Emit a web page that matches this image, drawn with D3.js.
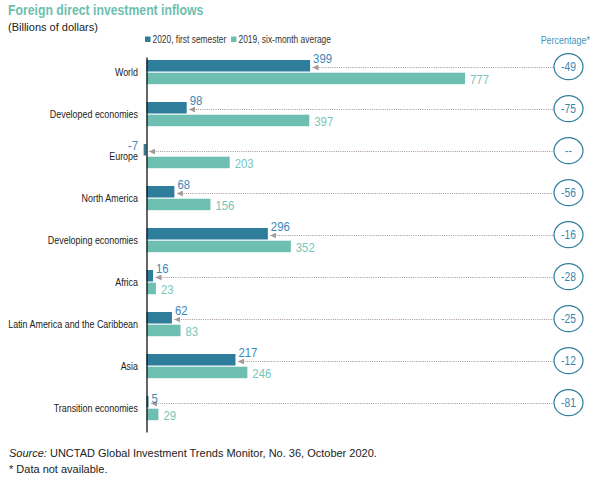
<!DOCTYPE html>
<html>
<head>
<meta charset="utf-8">
<script src="https://cdn.jsdelivr.net/npm/d3@7"></script>
<style>
  body { margin: 0; background: #fff; }
  text { font-family: "Liberation Sans", Arial, sans-serif; }
</style>
</head>
<body>
<svg width="605" height="482"></svg>
<script>
// ---- DATA ----
const categories = [
  "World", "Developed economies", "Europe", "North America",
  "Developing economies", "Africa", "Latin America and the Caribbean",
  "Asia", "Transition economies"
];
const values2020 = [399, 98, -7, 68, 296, 16, 62, 217, 5];
const values2019 = [777, 397, 203, 156, 352, 23, 83, 246, 29];
const pctChange = ["-49", "-75", "--", "-56", "-16", "-28", "-25", "-12", "-81"];
const seriesNames = ["2020, first semester", "2019, six-month average"];

const rows = categories.map((c, i) => ({
  name: c, v20: values2020[i], v19: values2019[i], pct: pctChange[i]
}));

const colDark = "#2e7d9b";
const colLight = "#6ebfb1";
const txtDark = "#3b87b6";
const txtLight = "#76c6ba";

const svg = d3.select("svg");

// no narrow font installed, so squeeze the glyphs ourselves
function narrow(sel, k = 0.82) {
  sel.each(function () {
    const w = this.getComputedTextLength();
    this.setAttribute("textLength", w * k);
    this.setAttribute("lengthAdjust", "spacingAndGlyphs");
  });
}

// ---- SCALES ----
const x = d3.scaleLinear().domain([0, 800]).range([146.5, 474.5]);
const y = d3.scaleBand().domain(categories).range([60, 60 + categories.length * 42]);

const barH = 11.5;
const circleX = 568.5;

// ---- TITLES ----
svg.append("text")
  .attr("x", 8).attr("y", 15)
  .attr("fill", "#6dbfae")
  .attr("font-weight", "bold")
  .attr("font-size", 15.5)
  .text("Foreign direct investment inflows")
  .call(narrow, 0.79);

svg.append("text")
  .attr("x", 8).attr("y", 31)
  .attr("fill", "#222")
  .attr("font-size", 11)
  .text("(Billions of dollars)");

// ---- LEGEND ----
const legend = svg.append("g");
[[145, colDark, seriesNames[0]], [231, colLight, seriesNames[1]]].forEach(([lx, c, t]) => {
  legend.append("rect").attr("x", lx).attr("y", 36.5).attr("width", 5.5).attr("height", 5.5).attr("fill", c);
  legend.append("text").attr("x", lx + 7.5).attr("y", 42.5)
    .attr("font-size", 10.5).attr("fill", "#333").text(t)
    .call(narrow, 0.8);
});

svg.append("text")
  .attr("x", 590).attr("y", 43.5)
  .attr("text-anchor", "end")
  .attr("font-size", 11.5)
  .attr("fill", "#4a93c0")
  .text("Percentage*")
  .call(narrow, 0.78);

// ---- ARROW MARKER ----
svg.append("defs").append("marker")
  .attr("id", "arr")
  .attr("viewBox", "0 0 6 6")
  .attr("refX", 0).attr("refY", 3)
  .attr("markerWidth", 6).attr("markerHeight", 6)
  .attr("markerUnits", "userSpaceOnUse")
  .attr("orient", "auto")
  .append("path")
  .attr("d", "M6,0 L0,3 L6,6 Z")
  .attr("fill", "#a59a9a");

const g = svg.append("g");

// ---- DOTTED CONNECTORS ----
g.selectAll(".conn").data(rows).join("line")
  .attr("x1", d => x(Math.max(d.v20, 0)) + 2.5)
  .attr("x2", circleX - 15)
  .attr("y1", d => y(d.name) + 7.5)
  .attr("y2", d => y(d.name) + 7.5)
  .attr("stroke", "#a89696")
  .attr("stroke-width", 1)
  .attr("stroke-dasharray", "1,1.2")
  .attr("marker-start", "url(#arr)");

// ---- BARS ----
g.selectAll(".b20").data(rows).join("rect")
  .attr("x", d => x(Math.min(d.v20, 0)))
  .attr("width", d => Math.abs(x(d.v20) - x(0)))
  .attr("y", d => y(d.name))
  .attr("height", barH)
  .attr("fill", colDark);

g.selectAll(".b19").data(rows).join("rect")
  .attr("x", x(0))
  .attr("width", d => x(d.v19) - x(0))
  .attr("y", d => y(d.name) + barH + 1.2)
  .attr("height", barH)
  .attr("fill", colLight);

// ---- VALUE LABELS ----
g.selectAll(".l20").data(rows).join("text")
  .attr("x", d => d.v20 < 0 ? x(0) - 8.5 : x(d.v20) + 3)
  .attr("y", d => y(d.name) + (d.v20 < 0 ? 6.3 : Math.abs(x(d.v20) - x(0)) < 5 ? 7 : 2.5))
  .attr("text-anchor", d => d.v20 < 0 ? "end" : "start")
  .attr("font-size", 13.5)
  .attr("fill", txtDark)
  .text(d => d.v20)
  .call(narrow, 0.84);

g.selectAll(".l19").data(rows).join("text")
  .attr("x", d => x(d.v19) + 5)
  .attr("y", d => y(d.name) + 2 * barH + 1.2)
  .attr("font-size", 13.5)
  .attr("fill", txtLight)
  .text(d => d.v19)
  .call(narrow, 0.84);

// ---- CATEGORY LABELS ----
g.selectAll(".cat").data(rows).join("text")
  .attr("x", 138)
  .attr("y", d => y(d.name) + 16.3)
  .attr("text-anchor", "end")
  .attr("font-size", 11)
  .attr("fill", "#222")
  .text(d => d.name)
  .call(narrow, 0.81);

// ---- AXIS LINE ----
const yAxis = d3.axisLeft(d3.scaleLinear().domain([0, 1]).range([y.range()[0] - 3, y.range()[1] - 6]))
  .ticks(0).tickSizeOuter(0);
svg.append("g")
  .attr("transform", `translate(${x(0)},0)`)
  .call(yAxis)
  .call(a => a.select(".domain").attr("stroke", "#111").attr("stroke-width", 1.3));

// ---- PERCENT CIRCLES ----
const circ = g.selectAll(".pc").data(rows).join("g")
  .attr("transform", d => `translate(${circleX},${y(d.name) + 6.7})`);
circ.append("ellipse")
  .attr("rx", 14.5).attr("ry", 13)
  .attr("fill", "#fff")
  .attr("stroke", "#2f7d9c")
  .attr("stroke-width", 1.2);
circ.append("text")
  .attr("y", 4.4)
  .attr("text-anchor", "middle")
  .attr("font-size", 12.5)
  .attr("fill", "#3a85ae")
  .text(d => d.pct)
  .call(narrow, 0.82);

// ---- FOOTNOTES ----
const src = svg.append("text")
  .attr("x", 9).attr("y", 457)
  .attr("font-size", 11)
  .attr("fill", "#222");
src.append("tspan").attr("font-style", "italic").text("Source:");
src.append("tspan").text(" UNCTAD Global Investment Trends Monitor, No. 36, October 2020.");

svg.append("text")
  .attr("x", 9).attr("y", 473)
  .attr("font-size", 11)
  .attr("fill", "#222")
  .text("* Data not available.");
</script>
</body>
</html>
